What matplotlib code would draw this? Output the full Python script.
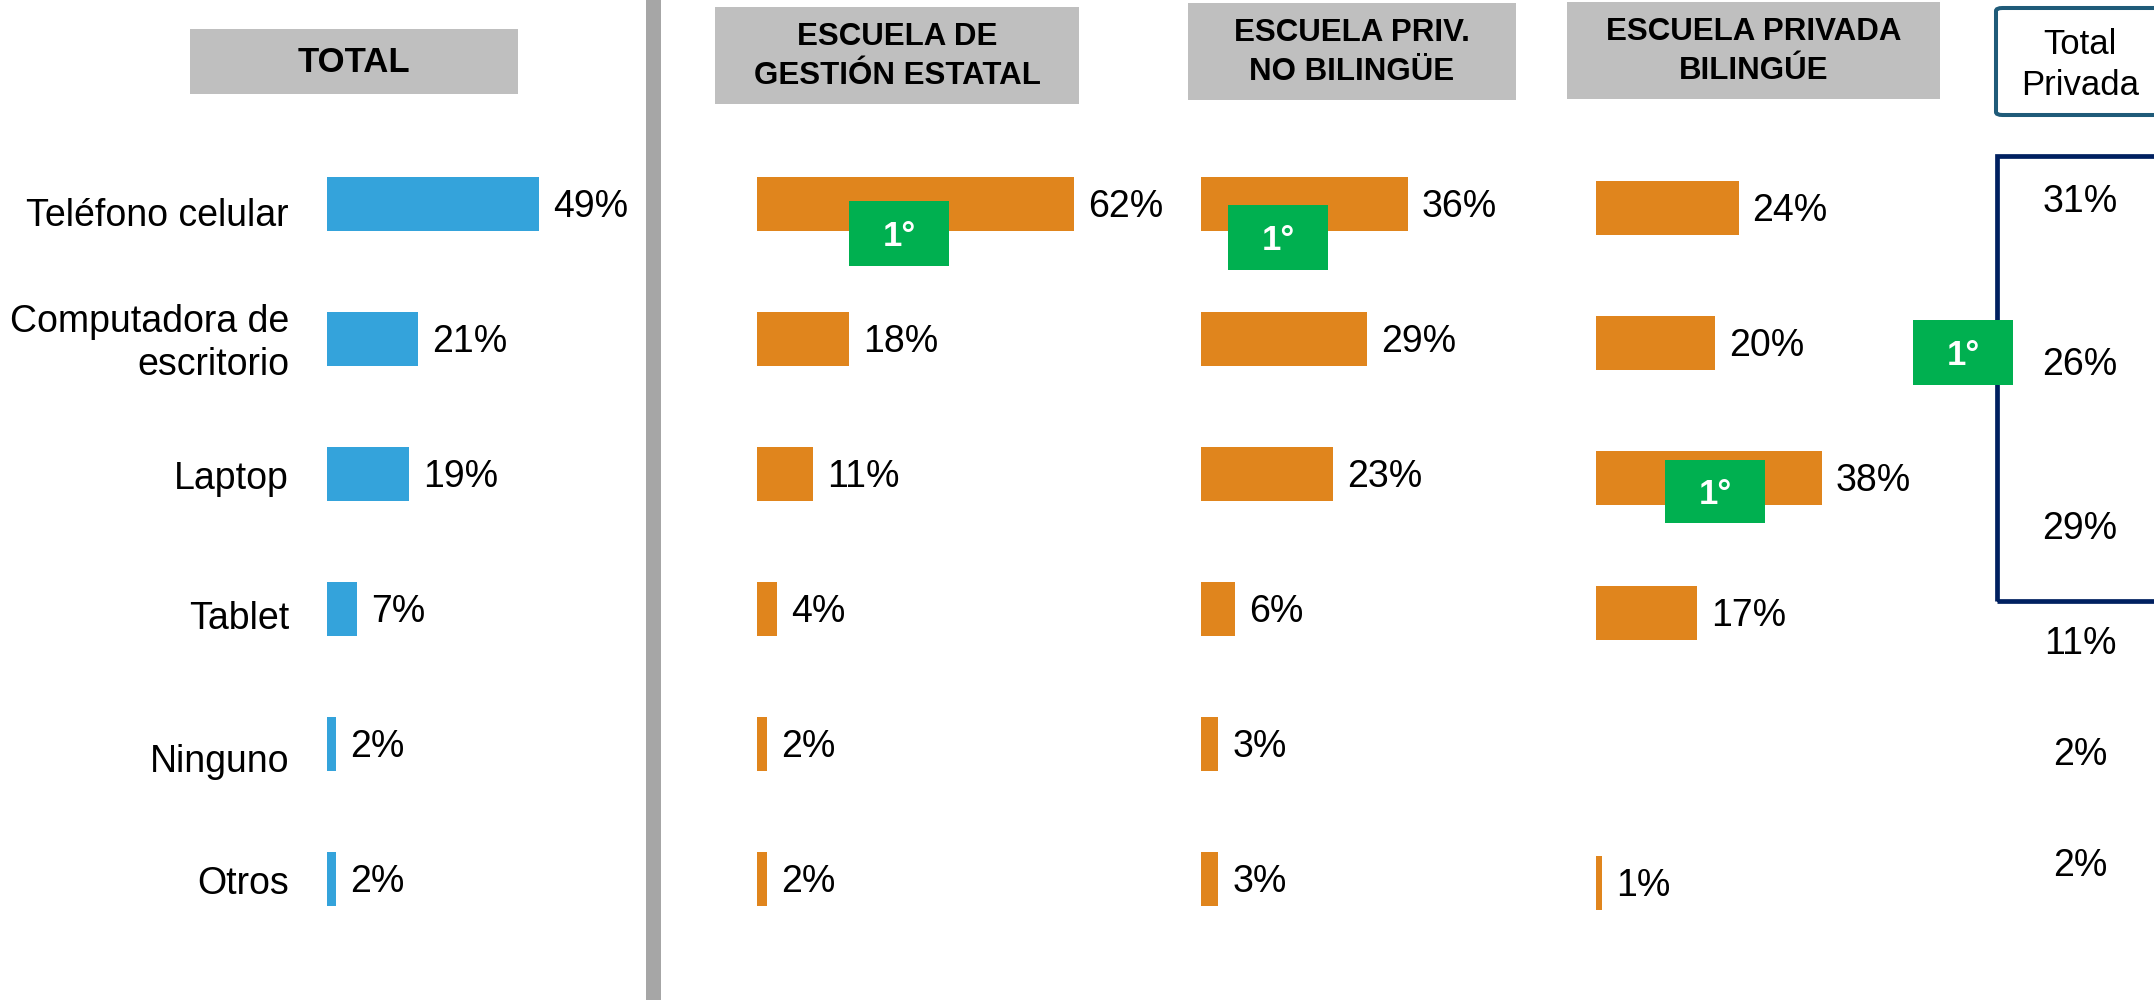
import numpy as np
import matplotlib
matplotlib.use("Agg")
import matplotlib.pyplot as plt
from matplotlib.patches import Rectangle, FancyBboxPatch
import matplotlib.transforms as mtransforms

plt.rcParams['font.family'] = ['Liberation Sans', 'DejaVu Sans']

# ---------------- data ----------------
categories = ["Teléfono celular", "Computadora de\nescritorio", "Laptop",
              "Tablet", "Ninguno", "Otros"]
total = [49, 21, 19, 7, 2, 2]
estatal = [62, 18, 11, 4, 2, 2]
privada_no_bilingue = [36, 29, 23, 6, 3, 3]
privada_bilingue = [24, 20, 38, 17, np.nan, 1]
total_privada = [31, 26, 29, 11, 2, 2]

panel_titles = ["TOTAL", "ESCUELA DE\nGESTIÓN ESTATAL",
                "ESCUELA PRIV.\nNO BILINGÜE", "ESCUELA PRIVADA\nBILINGÚE"]
total_privada_title = "Total\nPrivada"
rank_label = "1°"

# ---------------- style / layout ----------------
BLUE = "#34A3DB"
ORANGE = "#E0851D"
GREEN = "#00B050"
HEADER_GRAY = "#BFBFBF"
DIVIDER_GRAY = "#A6A6A6"
NAVY = "#002060"
TEAL = "#1F5B79"

W, H, DPI = 2154, 1000, 100
fig = plt.figure(figsize=(W / DPI, H / DPI), dpi=DPI)
fig.patch.set_facecolor("white")


def fx(x):
    return x / W


def fy(y):
    return 1 - y / H


ROW0 = 204
ROW_STEP = 135
BAR_H = 0.4
n = len(categories)
FS = 27


def make_axes(x0, ppp, dy=0, width=420):
    top = ROW0 + dy - ROW_STEP / 2
    bottom = ROW0 + dy + (n - 0.5) * ROW_STEP
    ax = fig.add_axes([fx(x0), fy(bottom), width / W, (bottom - top) / H])
    ax.set_xlim(0, width / ppp)
    ax.set_ylim(n - 0.5, -0.5)
    ax.set_facecolor("none")
    ax.axis("off")
    return ax


def offset(ax, dx, dy):
    return mtransforms.offset_copy(ax.transData, fig=fig, x=dx, y=dy, units="dots")


def draw_panel(ax, values, color):
    vals = np.array(values, dtype=float)
    ax.barh(np.arange(n), np.nan_to_num(vals), height=BAR_H, color=color,
            linewidth=0, clip_on=False)
    for i, v in enumerate(vals):
        if np.isnan(v):
            continue
        ax.text(v, i, f"{v:.0f}%", transform=offset(ax, 14, -13.4),
                ha="left", va="baseline", fontsize=FS, color="black")


# panels: (left px, px per %, vertical shift px)
panel_specs = [(327, 4.32, 0), (757, 5.12, 0), (1201, 5.74, 0), (1596, 5.94, 4)]
panel_series = [total, estatal, privada_no_bilingue, privada_bilingue]
panel_colors = [BLUE, ORANGE, ORANGE, ORANGE]

axes = []
for (x0, ppp, dy), vals, col in zip(panel_specs, panel_series, panel_colors):
    ax = make_axes(x0, ppp, dy)
    draw_panel(ax, vals, col)
    axes.append(ax)

# category labels (left of TOTAL panel)
label_dy = [22, 4.5, 15, 20, 28, 15]
ax0 = axes[0]
for i, (lab, d) in enumerate(zip(categories, label_dy)):
    if "\n" in lab:
        ax0.text(0, i, lab, transform=offset(ax0, -38, -d), ha="right",
                 va="center", fontsize=FS, multialignment="right",
                 linespacing=1.25)
    else:
        ax0.text(0, i, lab, transform=offset(ax0, -38, -d), ha="right",
                 va="baseline", fontsize=FS)

# headers
header_boxes = [(190, 29, 518, 94), (715, 7, 1079, 104),
                (1188, 3, 1516, 100), (1567, 2, 1940, 99)]
header_fs = [25, 22.5, 22.5, 22.5]
for (x0, y0, x1, y1), title, fs in zip(header_boxes, panel_titles, header_fs):
    fig.patches.append(Rectangle((fx(x0), fy(y1)), (x1 - x0) / W, (y1 - y0) / H,
                                 transform=fig.transFigure, facecolor=HEADER_GRAY,
                                 edgecolor="none", zorder=1))
    fig.text(fx((x0 + x1) / 2), fy((y0 + y1) / 2 + 1), title, ha="center",
             va="center", fontsize=fs, fontweight="bold", linespacing=1.35,
             color="black", zorder=3)

# vertical divider
fig.patches.append(Rectangle((fx(646), 0), 15 / W, 1, transform=fig.transFigure,
                             facecolor=DIVIDER_GRAY, edgecolor="none", zorder=1))

# Total Privada header box
fig.patches.append(FancyBboxPatch((fx(1996), fy(115)), (2200 - 1996) / W, (115 - 8) / H,
                                  boxstyle="round,pad=0,rounding_size=0.003",
                                  transform=fig.transFigure, facecolor="white",
                                  edgecolor=TEAL, linewidth=2.9, zorder=1))
fig.text(fx(2080), fy(65), total_privada_title, ha="center", va="center",
         fontsize=25, linespacing=1.3, color="black", zorder=3)

# Navy box around the top three Total Privada values
fig.patches.append(Rectangle((fx(1997), fy(601)), (2250 - 1997) / W, (601 - 156) / H,
                             transform=fig.transFigure, facecolor="none",
                             edgecolor=NAVY, linewidth=3.4, joinstyle="miter",
                             zorder=1))

# Total Privada values
tp_baselines = [212, 375, 539, 654, 765, 876]
for v, yb in zip(total_privada, tp_baselines):
    fig.text(fx(2080), fy(yb), f"{v}%", ha="center", va="baseline",
             fontsize=FS, color="black", zorder=3)

# ranking badges
badge_boxes = [(849, 201, 949, 266), (1228, 205, 1328, 270),
               (1665, 460, 1765, 523), (1913, 320, 2013, 385)]
for (x0, y0, x1, y1) in badge_boxes:
    fig.patches.append(Rectangle((fx(x0), fy(y1)), (x1 - x0) / W, (y1 - y0) / H,
                                 transform=fig.transFigure, facecolor=GREEN,
                                 edgecolor="none", zorder=2))
    fig.text(fx((x0 + x1) / 2), fy((y0 + y1) / 2 + 12.4), rank_label,
             ha="center", va="baseline", fontsize=25, fontweight="bold",
             color="white", zorder=4)

fig.savefig("out.png", dpi=DPI, facecolor="white")
